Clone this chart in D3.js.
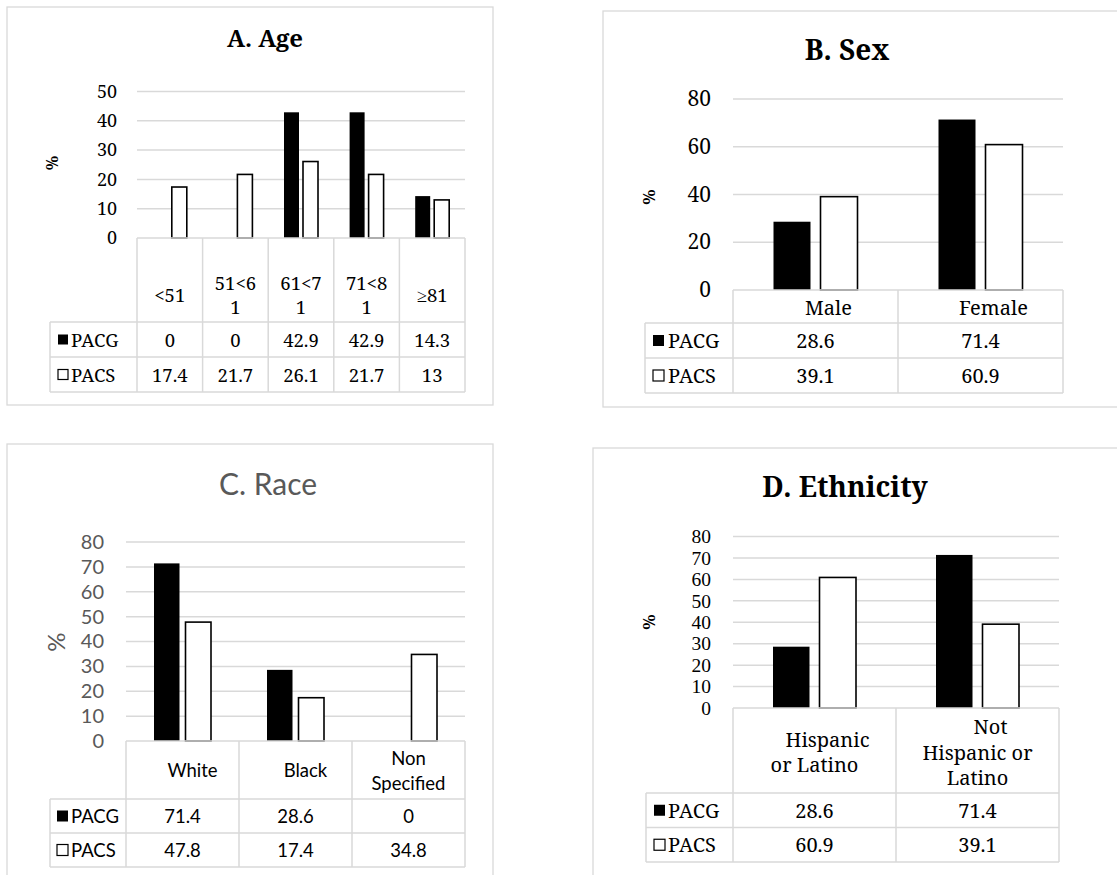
<!DOCTYPE html>
<html>
<head>
<meta charset="utf-8">
<script src="https://cdn.jsdelivr.net/npm/d3@7"></script>
<style>
  html, body { margin: 0; padding: 0; background: #fff; }
  svg { display: block; }
</style>
</head>
<body>
<svg id="chart" width="1117" height="875"></svg>
<script>
// ---------- Data ----------
const seriesNames = ["PACG", "PACS"];

const ageCategories = [["<51"], ["51<6", "1"], ["61<7", "1"], ["71<8", "1"], ["≥81"]];
const agePACG = [0, 0, 42.9, 42.9, 14.3];
const agePACS = [17.4, 21.7, 26.1, 21.7, 13];
const ageTicks = [0, 10, 20, 30, 40, 50];

const sexCategories = [["Male"], ["Female"]];
const sexPACG = [28.6, 71.4];
const sexPACS = [39.1, 60.9];
const sexTicks = [0, 20, 40, 60, 80];

const raceCategories = [["White"], ["Black"], ["Non", "Specified"]];
const racePACG = [71.4, 28.6, 0];
const racePACS = [47.8, 17.4, 34.8];
const raceTicks = [0, 10, 20, 30, 40, 50, 60, 70, 80];

const ethnicityCategories = [["Hispanic", "or Latino"], ["Not", "Hispanic or", "Latino"]];
const ethnicityPACG = [28.6, 71.4];
const ethnicityPACS = [60.9, 39.1];
const ethnicityTicks = [0, 10, 20, 30, 40, 50, 60, 70, 80];

const panelTitles = ["A. Age", "B. Sex", "C. Race", "D. Ethnicity"];

// ---------- Layout / style ----------
const GRID = "#d9d9d9";
const SERIF = "Noto Serif";
const SERIF2 = "Liberation Serif";
const SANS = "Lato";

const svg = d3.select("#chart");

function font(sel, f) {
  return sel.attr("font-family", f[0]).attr("font-size", f[1]).attr("font-weight", f[2] || "normal");
}

function drawPanel(cfg, cats, pacg, pacs, ticks) {
  const g = svg.append("g");

  g.append("rect")
    .attr("x", cfg.box[0]).attr("y", cfg.box[1])
    .attr("width", cfg.box[2]).attr("height", cfg.box[3])
    .attr("fill", "#fff").attr("stroke", GRID).attr("stroke-width", 1.3);

  font(g.append("text"), cfg.titleFont)
    .attr("x", cfg.titleX).attr("y", cfg.titleY)
    .attr("text-anchor", "middle")
    .attr("fill", cfg.titleColor)
    .text(cfg.title);

  const max = ticks[ticks.length - 1];
  const y = d3.scaleLinear().domain([0, max]).range([cfg.yZero, cfg.yTop]);
  const x = d3.scaleBand().domain(d3.range(cats.length)).range([cfg.x0, cfg.x1]).padding(0);

  g.append("g").selectAll("line").data(ticks.filter(t => t > 0)).join("line")
    .attr("x1", cfg.x0).attr("x2", cfg.x1)
    .attr("y1", d => y(d)).attr("y2", d => y(d))
    .attr("stroke", GRID).attr("stroke-width", 1.5);

  const ax = g.append("g").attr("transform", `translate(${cfg.tickX},0)`)
    .call(d3.axisLeft(y).tickValues(ticks).tickSize(0).tickPadding(0).tickFormat(d3.format("d")));
  ax.select(".domain").remove();
  font(ax, cfg.tickFont);
  ax.selectAll("text").attr("fill", cfg.tickColor);

  font(g.append("text"), cfg.pctFont)
    .attr("transform", `translate(${cfg.pctX},${cfg.pctY}) rotate(-90)`)
    .attr("text-anchor", "middle").attr("dominant-baseline", "central")
    .attr("fill", cfg.tickColor)
    .text("%");

  const pairW = 2 * cfg.barW + cfg.gap;
  const inner = d3.scaleBand().domain(seriesNames)
    .range([-pairW / 2, pairW / 2])
    .paddingInner(cfg.gap / (cfg.barW + cfg.gap)).paddingOuter(0);
  const rows = cats.map((c, i) => [
    { s: "PACG", v: pacg[i], i },
    { s: "PACS", v: pacs[i], i }
  ]).flat().filter(d => d.v > 0);

  g.append("g").selectAll("rect").data(rows).join("rect")
    .attr("x", d => x(d.i) + x.bandwidth() / 2 + inner(d.s))
    .attr("width", inner.bandwidth())
    .attr("y", d => y(d.v))
    .attr("height", d => y(0) - y(d.v))
    .attr("fill", d => d.s === "PACG" ? "#000" : "#fff")
    .attr("stroke", d => d.s === "PACG" ? "none" : "#000")
    .attr("stroke-width", 1.6);

  const t = g.append("g");
  font(t, cfg.tableFont);
  const rowTops = [cfg.headerBottom, cfg.headerBottom + cfg.rowH];
  const bottom = cfg.headerBottom + 2 * cfg.rowH;
  const hl = (x1, x2, yy) => t.append("line").attr("x1", x1).attr("x2", x2).attr("y1", yy).attr("y2", yy)
    .attr("stroke", GRID).attr("stroke-width", 1.5);
  const vl = (xx, y1, y2) => t.append("line").attr("x1", xx).attr("x2", xx).attr("y1", y1).attr("y2", y2)
    .attr("stroke", GRID).attr("stroke-width", 1.5);
  hl(cfg.x0, cfg.x1, cfg.yZero);
  hl(cfg.tableLeft, cfg.x1, cfg.headerBottom);
  hl(cfg.tableLeft, cfg.x1, cfg.headerBottom + cfg.rowH);
  hl(cfg.tableLeft, cfg.x1, bottom);
  vl(cfg.tableLeft, cfg.headerBottom, bottom);
  cats.forEach((c, i) => vl(x(i), cfg.yZero, bottom));
  vl(cfg.x1, cfg.yZero, bottom);

  cats.forEach((lines, i) => {
    const cx = x(i) + x.bandwidth() / 2;
    const n = lines.length;
    lines.forEach((ln, k) => {
      const dx = (cfg.headerDx && cfg.headerDx[i]) ? cfg.headerDx[i][k] : 0;
      t.append("text")
        .attr("x", cx + dx)
        .attr("y", cfg.headerCenterY + (k - (n - 1) / 2) * cfg.lineH)
        .attr("text-anchor", "middle").attr("dominant-baseline", "central")
        .attr("fill", "#000")
        .text(ln);
    });
  });

  [pacg, pacs].forEach((vals, r) => {
    const cy = rowTops[r] + cfg.rowH / 2;
    const ks = cfg.keySize;
    t.append("rect")
      .attr("x", cfg.keyX).attr("y", cy - ks / 2)
      .attr("width", ks).attr("height", ks)
      .attr("fill", r === 0 ? "#000" : "#fff")
      .attr("stroke", "#000").attr("stroke-width", r === 0 ? 0 : 1.2);
    t.append("text")
      .attr("x", cfg.labelX).attr("y", cy)
      .attr("dominant-baseline", "central")
      .attr("fill", "#000")
      .text(seriesNames[r]);
    vals.forEach((v, i) => {
      t.append("text")
        .attr("x", x(i) + x.bandwidth() / 2).attr("y", cy)
        .attr("text-anchor", "middle").attr("dominant-baseline", "central")
        .attr("fill", "#000")
        .text(String(v));
    });
  });
}

// Panel A
drawPanel({
  box: [7, 7, 486, 398], title: panelTitles[0], titleX: 265, titleY: 47,
  titleFont: [SERIF, 24, "bold"], titleColor: "#000",
  x0: 137, x1: 465, yZero: 238, yTop: 91.5, barW: 15, gap: 4,
  tableLeft: 50, headerBottom: 322, rowH: 35,
  tickX: 117, tickFont: [SERIF, 18], tickColor: "#000",
  pctX: 52, pctY: 163, pctFont: [SERIF, 16, "bold"],
  tableFont: [SERIF, 18.5], headerCenterY: 294, lineH: 24, headerDx: null,
  keyX: 58, keySize: 10, labelX: 71
}, ageCategories, agePACG, agePACS, ageTicks);

// Panel B
drawPanel({
  box: [603, 11, 540, 396], title: panelTitles[1], titleX: 847, titleY: 60,
  titleFont: [SERIF, 28, "bold"], titleColor: "#000",
  x0: 733, x1: 1063, yZero: 290, yTop: 99, barW: 37, gap: 10,
  tableLeft: 645, headerBottom: 323, rowH: 35,
  tickX: 711, tickFont: [SERIF, 21], tickColor: "#000",
  pctX: 648, pctY: 197, pctFont: [SERIF, 17, "bold"],
  tableFont: [SERIF, 20], headerCenterY: 307, lineH: 24, headerDx: [[13], [13]],
  keyX: 653, keySize: 11, labelX: 668
}, sexCategories, sexPACG, sexPACS, sexTicks);

// Panel C
drawPanel({
  box: [7, 444, 486, 460], title: panelTitles[2], titleX: 268, titleY: 495,
  titleFont: [SANS, 30], titleColor: "#595959",
  x0: 126, x1: 465, yZero: 741, yTop: 542, barW: 25.5, gap: 6,
  tableLeft: 50, headerBottom: 799, rowH: 34,
  tickX: 104, tickFont: [SANS, 20], tickColor: "#595959",
  pctX: 55, pctY: 642, pctFont: [SANS, 24],
  tableFont: [SANS, 18.5], headerCenterY: 770, lineH: 25, headerDx: [[10], [10], [0, 0]],
  keyX: 57, keySize: 11, labelX: 71
}, raceCategories, racePACG, racePACS, raceTicks);

// Panel D
drawPanel({
  box: [593, 448, 560, 460], title: panelTitles[3], titleX: 845, titleY: 497,
  titleFont: [SERIF, 28, "bold"], titleColor: "#000",
  x0: 733, x1: 1059, yZero: 708, yTop: 536.5, barW: 36.5, gap: 10,
  tableLeft: 646, headerBottom: 793, rowH: 34.5,
  tickX: 711, tickFont: [SERIF2, 19.5], tickColor: "#000",
  pctX: 648, pctY: 622, pctFont: [SERIF, 17, "bold"],
  tableFont: [SERIF, 20], headerCenterY: 752, lineH: 25.5, headerDx: [[13, 0], [13, 0, 0]],
  keyX: 654, keySize: 11, labelX: 668
}, ethnicityCategories, ethnicityPACG, ethnicityPACS, ethnicityTicks);
</script>
</body>
</html>
